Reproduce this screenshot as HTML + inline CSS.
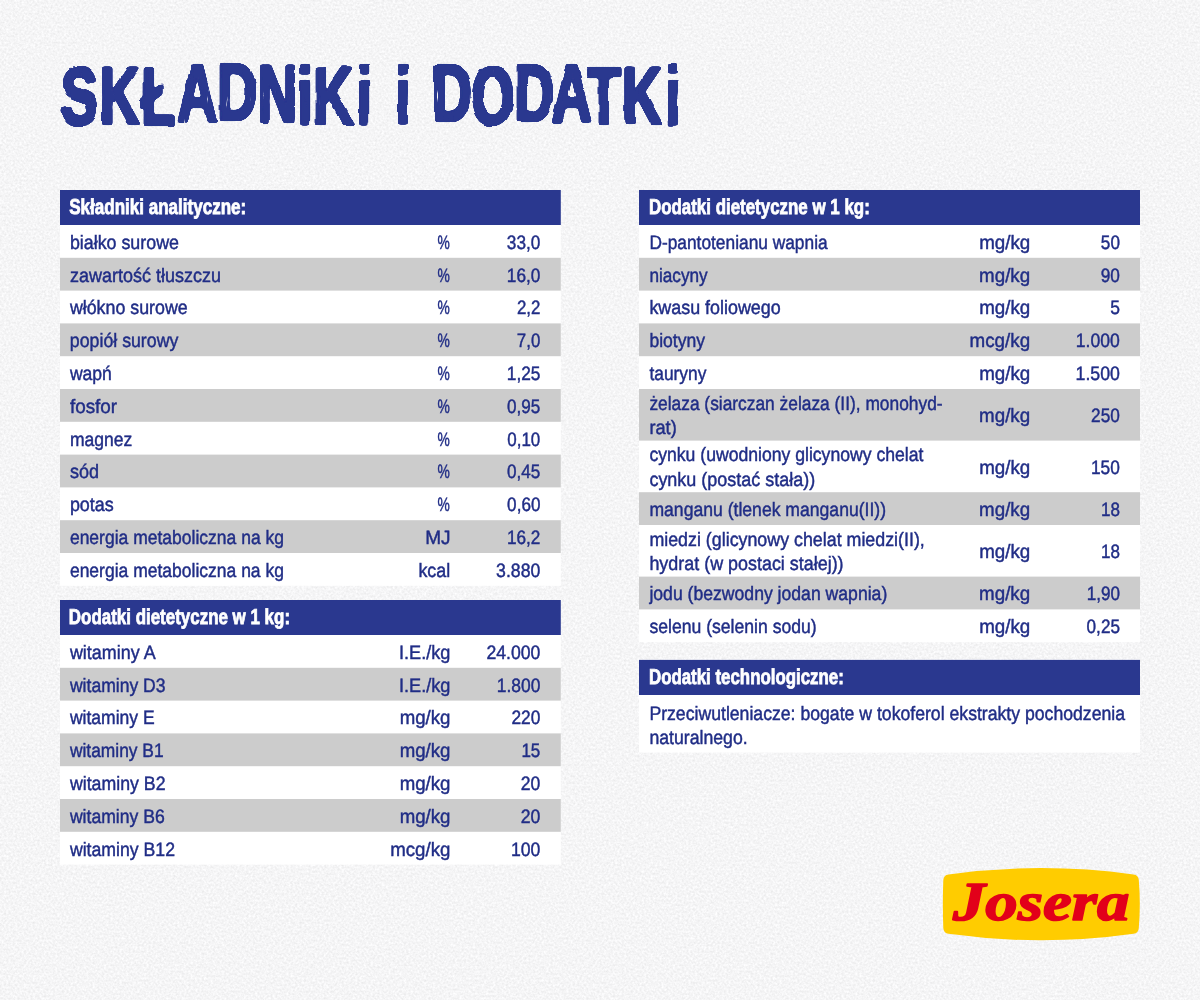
<!DOCTYPE html>
<html lang="pl"><head><meta charset="utf-8"><title>Składniki i dodatki</title>
<style>
html,body{margin:0;padding:0}
body{width:1200px;height:1000px;position:relative;overflow:hidden;background:#f5f5f7;color:#202d86;font-family:"Liberation Sans",sans-serif}
h1,h2,p,ul,li{margin:0;padding:0;list-style:none;font-size:inherit;font-weight:inherit}
.bx{position:absolute}
.t{position:absolute;white-space:nowrap;font-size:19.4px;font-style:normal;font-weight:normal;line-height:30px;height:30px;display:block;transform-origin:0 0;text-rendering:geometricPrecision;-webkit-text-stroke:0.45px currentColor}
.t.b{font-weight:bold;font-size:21.6px;color:#fff;-webkit-text-stroke:0.8px currentColor}
</style></head><body>
<svg class="bx" style="left:0;top:0" width="1200" height="1000" viewBox="0 0 1200 1000" aria-hidden="true">
<filter id="pn" x="0" y="0" width="1200" height="1000" filterUnits="userSpaceOnUse" color-interpolation-filters="sRGB"><feTurbulence type="fractalNoise" baseFrequency="0.45" numOctaves="2" seed="7"/>
<feColorMatrix type="matrix" values="0.12 0 0 0 0.901  0.12 0 0 0 0.901  0.12 0 0 0 0.905  0 0 0 0 1"/></filter>
<rect width="1200" height="1000" fill="#f5f5f7" filter="url(#pn)"/>
<rect x="60.00" y="224.00" width="500.80" height="361.80" fill="#fff"/>
<rect x="60.00" y="190.00" width="500.80" height="35.00" fill="#2a388f"/>
<rect x="60.00" y="257.80" width="500.80" height="32.80" fill="#cccccc"/>
<rect x="60.00" y="323.40" width="500.80" height="32.80" fill="#cccccc"/>
<rect x="60.00" y="389.00" width="500.80" height="32.80" fill="#cccccc"/>
<rect x="60.00" y="454.60" width="500.80" height="32.80" fill="#cccccc"/>
<rect x="60.00" y="520.20" width="500.80" height="32.80" fill="#cccccc"/>
<rect x="60.00" y="634.00" width="500.80" height="230.60" fill="#fff"/>
<rect x="60.00" y="600.00" width="500.80" height="35.00" fill="#2a388f"/>
<rect x="60.00" y="667.80" width="500.80" height="32.80" fill="#cccccc"/>
<rect x="60.00" y="733.40" width="500.80" height="32.80" fill="#cccccc"/>
<rect x="60.00" y="799.00" width="500.80" height="32.80" fill="#cccccc"/>
<rect x="639.00" y="224.00" width="501.00" height="418.20" fill="#fff"/>
<rect x="639.00" y="190.00" width="501.00" height="35.00" fill="#2a388f"/>
<rect x="639.00" y="257.80" width="501.00" height="32.80" fill="#cccccc"/>
<rect x="639.00" y="323.40" width="501.00" height="32.80" fill="#cccccc"/>
<rect x="639.00" y="389.00" width="501.00" height="51.60" fill="#cccccc"/>
<rect x="639.00" y="492.20" width="501.00" height="32.80" fill="#cccccc"/>
<rect x="639.00" y="576.60" width="501.00" height="32.80" fill="#cccccc"/>
<rect x="639.00" y="694.00" width="501.00" height="58.60" fill="#fff"/>
<rect x="639.00" y="659.90" width="501.00" height="35.10" fill="#2a388f"/>
</svg>
<main>
<h1 aria-label="SKŁADNIKI I DODATKI"><svg class="bx" style="left:0;top:0;filter:drop-shadow(0.8px 0 0 #2a388f) drop-shadow(-0.8px 0 0 #2a388f)" width="1200" height="170" viewBox="0 0 1200 170">
<filter id="br" x="0" y="0" width="1200" height="170" filterUnits="userSpaceOnUse"><feGaussianBlur stdDeviation="1.3"/><feComponentTransfer result="g"><feFuncA type="linear" slope="6" intercept="-2.5"/></feComponentTransfer><feTurbulence type="fractalNoise" baseFrequency="0.045 0.06" numOctaves="1" seed="3" result="n"/><feDisplacementMap in="g" in2="n" scale="3.5" xChannelSelector="R" yChannelSelector="G" result="d"/><feTurbulence type="fractalNoise" baseFrequency="0.4 0.035" numOctaves="2" seed="11" result="s"/><feColorMatrix in="s" type="matrix" values="0 0 0 0 0  0 0 0 0 0  0 0 0 0 0  10 0 0 0 -6.9" result="sm"/><feComposite in="d" in2="sm" operator="out"/></filter>
<g filter="url(#br)"><text transform="scale(0.68,1)" x="90.6 147.0 208.3 261.3 320.1 379.5 438.2 461.5 525.1 558.8 582.0 617.6 635.7 693.9 757.1 812.0 863.9 915.4 979.1" y="124.1 124.1 124.6 121.1 120.1 122.1 124.1 124.1 124.1 124.1 124.1 124.1 120.6 123.6 120.6 121.1 123.6 124.1 124.1" font-family="'Liberation Sans', sans-serif" font-weight="bold" font-size="81.5" fill="#2a388f" stroke="#2a388f" stroke-width="2.4" stroke-linejoin="round" xml:space="preserve">SKŁADNiKi i DODATKi</text></g>
</svg></h1>
<section>
<h2 class="t b" style="left:69px;top:192px;transform:translateX(0.19px) scaleX(0.7888)">Składniki analityczne:</h2>
<ul>
<li>
<span class="t" style="left:69px;top:228px;transform:translateX(0.90px) scaleX(0.9197)">białko surowe</span>
<span class="t" style="left:437px;top:228px;transform:translateX(0.49px) scaleX(0.7133)">%</span>
<span class="t" style="left:506px;top:228px;transform:translateX(0.82px) scaleX(0.8874)">33,0</span>
</li>
<li>
<span class="t" style="left:69px;top:261px;transform:translateX(0.90px) scaleX(0.9281)">zawartość tłuszczu</span>
<span class="t" style="left:437px;top:261px;transform:translateX(0.46px) scaleX(0.7145)">%</span>
<span class="t" style="left:506px;top:261px;transform:translateX(0.80px) scaleX(0.8890)">16,0</span>
</li>
<li>
<span class="t" style="left:69px;top:293px;transform:translateX(0.90px) scaleX(0.9180)">włókno surowe</span>
<span class="t" style="left:437px;top:293px;transform:translateX(0.49px) scaleX(0.7133)">%</span>
<span class="t" style="left:516px;top:293px;transform:translateX(0.92px) scaleX(0.8709)">2,2</span>
</li>
<li>
<span class="t" style="left:69px;top:326px;transform:translateX(0.87px) scaleX(0.9146)">popiół surowy</span>
<span class="t" style="left:437px;top:326px;transform:translateX(0.46px) scaleX(0.7145)">%</span>
<span class="t" style="left:516px;top:326px;transform:translateX(0.82px) scaleX(0.8695)">7,0</span>
</li>
<li>
<span class="t" style="left:69px;top:359px;transform:translateX(0.90px) scaleX(0.9053)">wapń</span>
<span class="t" style="left:437px;top:359px;transform:translateX(0.49px) scaleX(0.7133)">%</span>
<span class="t" style="left:506px;top:359px;transform:translateX(0.82px) scaleX(0.8912)">1,25</span>
</li>
<li>
<span class="t" style="left:69px;top:392px;transform:translateX(0.90px) scaleX(0.9734)">fosfor</span>
<span class="t" style="left:437px;top:392px;transform:translateX(0.46px) scaleX(0.7145)">%</span>
<span class="t" style="left:507px;top:392px;transform:translateX(0.07px) scaleX(0.8823)">0,95</span>
</li>
<li>
<span class="t" style="left:69px;top:425px;transform:translateX(0.89px) scaleX(0.9043)">magnez</span>
<span class="t" style="left:437px;top:425px;transform:translateX(0.49px) scaleX(0.7133)">%</span>
<span class="t" style="left:507px;top:425px;transform:translateX(0.26px) scaleX(0.8744)">0,10</span>
</li>
<li>
<span class="t" style="left:69px;top:457px;transform:translateX(0.90px) scaleX(0.9297)">sód</span>
<span class="t" style="left:437px;top:457px;transform:translateX(0.46px) scaleX(0.7145)">%</span>
<span class="t" style="left:507px;top:457px;transform:translateX(0.07px) scaleX(0.8823)">0,45</span>
</li>
<li>
<span class="t" style="left:69px;top:490px;transform:translateX(0.89px) scaleX(0.9248)">potas</span>
<span class="t" style="left:437px;top:490px;transform:translateX(0.49px) scaleX(0.7133)">%</span>
<span class="t" style="left:507px;top:490px;transform:translateX(0.12px) scaleX(0.8820)">0,60</span>
</li>
<li>
<span class="t" style="left:69px;top:523px;transform:translateX(0.89px) scaleX(0.9028)">energia metaboliczna na kg</span>
<span class="t" style="left:425px;top:523px;transform:translateX(0.17px) scaleX(0.9830)">MJ</span>
<span class="t" style="left:506px;top:523px;transform:translateX(0.98px) scaleX(0.8856)">16,2</span>
</li>
<li>
<span class="t" style="left:69px;top:556px;transform:translateX(0.90px) scaleX(0.9026)">energia metaboliczna na kg</span>
<span class="t" style="left:418px;top:556px;transform:translateX(0.40px) scaleX(0.9231)">kcal</span>
<span class="t" style="left:496px;top:556px;transform:translateX(0.12px) scaleX(0.9110)">3.880</span>
</li>
</ul>
</section>
<section>
<h2 class="t b" style="left:68px;top:602px;transform:translateX(0.81px) scaleX(0.7845)">Dodatki dietetyczne w 1 kg:</h2>
<ul>
<li>
<span class="t" style="left:69px;top:638px;transform:translateX(0.90px) scaleX(0.9249)">witaminy A</span>
<span class="t" style="left:399px;top:638px;transform:translateX(0.02px) scaleX(0.9347)">I.E./kg</span>
<span class="t" style="left:486px;top:638px;transform:translateX(0.47px) scaleX(0.9091)">24.000</span>
</li>
<li>
<span class="t" style="left:69px;top:671px;transform:translateX(0.92px) scaleX(0.9054)">witaminy D3</span>
<span class="t" style="left:398px;top:671px;transform:translateX(0.98px) scaleX(0.9357)">I.E./kg</span>
<span class="t" style="left:496px;top:671px;transform:translateX(0.73px) scaleX(0.8985)">1.800</span>
</li>
<li>
<span class="t" style="left:69px;top:703px;transform:translateX(0.91px) scaleX(0.9039)">witaminy E</span>
<span class="t" style="left:399px;top:703px;transform:translateX(0.69px) scaleX(0.9616)">mg/kg</span>
<span class="t" style="left:511px;top:703px;transform:translateX(0.38px) scaleX(0.8949)">220</span>
</li>
<li>
<span class="t" style="left:69px;top:736px;transform:translateX(0.90px) scaleX(0.8967)">witaminy B1</span>
<span class="t" style="left:399px;top:736px;transform:translateX(0.67px) scaleX(0.9620)">mg/kg</span>
<span class="t" style="left:521px;top:736px;transform:translateX(0.39px) scaleX(0.8770)">15</span>
</li>
<li>
<span class="t" style="left:69px;top:769px;transform:translateX(0.90px) scaleX(0.9145)">witaminy B2</span>
<span class="t" style="left:399px;top:769px;transform:translateX(0.69px) scaleX(0.9616)">mg/kg</span>
<span class="t" style="left:520px;top:769px;transform:translateX(0.81px) scaleX(0.9063)">20</span>
</li>
<li>
<span class="t" style="left:69px;top:802px;transform:translateX(0.90px) scaleX(0.9077)">witaminy B6</span>
<span class="t" style="left:399px;top:802px;transform:translateX(0.67px) scaleX(0.9620)">mg/kg</span>
<span class="t" style="left:520px;top:802px;transform:translateX(0.73px) scaleX(0.9109)">20</span>
</li>
<li>
<span class="t" style="left:69px;top:835px;transform:translateX(0.90px) scaleX(0.9115)">witaminy B12</span>
<span class="t" style="left:390px;top:835px;transform:translateX(0.19px) scaleX(0.9623)">mcg/kg</span>
<span class="t" style="left:510px;top:835px;transform:translateX(0.99px) scaleX(0.9088)">100</span>
</li>
</ul>
</section>
<section>
<h2 class="t b" style="left:648px;top:192px;transform:translateX(0.94px) scaleX(0.7831)">Dodatki dietetyczne w 1 kg:</h2>
<ul>
<li>
<span class="t" style="left:649px;top:228px;transform:translateX(0.40px) scaleX(0.8937)">D-pantotenianu wapnia</span>
<span class="t" style="left:979px;top:228px;transform:translateX(0.18px) scaleX(0.9665)">mg/kg</span>
<span class="t" style="left:1100px;top:228px;transform:translateX(0.86px) scaleX(0.8837)">50</span>
</li>
<li>
<span class="t" style="left:649px;top:261px;transform:translateX(0.40px) scaleX(0.8857)">niacyny</span>
<span class="t" style="left:979px;top:261px;transform:translateX(0.12px) scaleX(0.9655)">mg/kg</span>
<span class="t" style="left:1100px;top:261px;transform:translateX(0.71px) scaleX(0.8885)">90</span>
</li>
<li>
<span class="t" style="left:649px;top:293px;transform:translateX(0.39px) scaleX(0.9232)">kwasu foliowego</span>
<span class="t" style="left:979px;top:293px;transform:translateX(0.18px) scaleX(0.9665)">mg/kg</span>
<span class="t" style="left:1110px;top:293px;transform:translateX(0.14px) scaleX(0.9008)">5</span>
</li>
<li>
<span class="t" style="left:649px;top:326px;transform:translateX(0.40px) scaleX(0.9061)">biotyny</span>
<span class="t" style="left:969px;top:326px;transform:translateX(0.58px) scaleX(0.9688)">mcg/kg</span>
<span class="t" style="left:1075px;top:326px;transform:translateX(0.82px) scaleX(0.9075)">1.000</span>
</li>
<li>
<span class="t" style="left:649px;top:359px;transform:translateX(0.40px) scaleX(0.8957)">tauryny</span>
<span class="t" style="left:979px;top:359px;transform:translateX(0.18px) scaleX(0.9665)">mg/kg</span>
<span class="t" style="left:1075px;top:359px;transform:translateX(0.54px) scaleX(0.9144)">1.500</span>
</li>
<li>
<span>
<i class="t" style="left:649px;top:389px;transform:translateX(0.39px) scaleX(0.8949)">żelaza (siarczan żelaza (II), monohyd-</i>
<i class="t" style="left:649px;top:413px;transform:translateX(0.40px) scaleX(0.9390)">rat)</i>
</span>
<span class="t" style="left:979px;top:401px;transform:translateX(0.12px) scaleX(0.9655)">mg/kg</span>
<span class="t" style="left:1091px;top:401px;transform:translateX(0.05px) scaleX(0.8885)">250</span>
</li>
<li>
<span>
<i class="t" style="left:649px;top:440px;transform:translateX(0.40px) scaleX(0.9078)">cynku (uwodniony glicynowy chelat</i>
<i class="t" style="left:649px;top:465px;transform:translateX(0.40px) scaleX(0.9265)">cynku (postać stała))</i>
</span>
<span class="t" style="left:979px;top:453px;transform:translateX(0.18px) scaleX(0.9665)">mg/kg</span>
<span class="t" style="left:1090px;top:453px;transform:translateX(0.98px) scaleX(0.8921)">150</span>
</li>
<li>
<span class="t" style="left:649px;top:495px;transform:translateX(0.40px) scaleX(0.9074)">manganu (tlenek manganu(II))</span>
<span class="t" style="left:979px;top:495px;transform:translateX(0.12px) scaleX(0.9655)">mg/kg</span>
<span class="t" style="left:1100px;top:495px;transform:translateX(0.99px) scaleX(0.8791)">18</span>
</li>
<li>
<span>
<i class="t" style="left:649px;top:525px;transform:translateX(0.40px) scaleX(0.9193)">miedzi (glicynowy chelat miedzi(II),</i>
<i class="t" style="left:649px;top:549px;transform:translateX(0.40px) scaleX(0.9240)">hydrat (w postaci stałej))</i>
</span>
<span class="t" style="left:979px;top:537px;transform:translateX(0.18px) scaleX(0.9665)">mg/kg</span>
<span class="t" style="left:1101px;top:537px;transform:translateX(0.05px) scaleX(0.8771)">18</span>
</li>
<li>
<span class="t" style="left:649px;top:579px;transform:translateX(0.40px) scaleX(0.9080)">jodu (bezwodny jodan wapnia)</span>
<span class="t" style="left:979px;top:579px;transform:translateX(0.12px) scaleX(0.9655)">mg/kg</span>
<span class="t" style="left:1086px;top:579px;transform:translateX(0.71px) scaleX(0.8806)">1,90</span>
</li>
<li>
<span class="t" style="left:649px;top:612px;transform:translateX(0.40px) scaleX(0.9077)">selenu (selenin sodu)</span>
<span class="t" style="left:979px;top:612px;transform:translateX(0.18px) scaleX(0.9665)">mg/kg</span>
<span class="t" style="left:1086px;top:612px;transform:translateX(0.58px) scaleX(0.8843)">0,25</span>
</li>
</ul>
</section>
<section>
<h2 class="t b" style="left:648px;top:662px;transform:translateX(0.95px) scaleX(0.7810)">Dodatki technologiczne:</h2>
<p>
<i class="t" style="left:649px;top:699px;transform:translateX(0.40px) scaleX(0.9099)">Przeciwutleniacze: bogate w tokoferol ekstrakty pochodzenia</i>
<i class="t" style="left:649px;top:723px;transform:translateX(0.41px) scaleX(0.9108)">naturalnego.</i>
</p>
</section>
<footer><svg class="bx" style="left:930px;top:855px" width="220" height="100" viewBox="930 855 220 100">
<path d="M948.5 874.4 Q1041 861.6 1133.5 874.4 Q1138.5 875 1138.8 880 Q1140.8 904 1138.8 928 Q1138.5 933.2 1133.5 933.8 Q1041 946.8 948.5 933.8 Q943.6 933.2 943.3 928 Q942.4 904 943.3 880 Q943.6 875 948.5 874.4 Z" fill="#ffcc00"/>
<text x="1041.2" y="920.3" text-anchor="middle" font-family="'Liberation Serif', serif" font-style="italic" font-weight="bold" font-size="55" fill="#e2001a" stroke="#e2001a" stroke-width="1.6" stroke-linejoin="round" textLength="176.5" lengthAdjust="spacingAndGlyphs">Josera</text>
</svg></footer>
</main>
</body></html>
